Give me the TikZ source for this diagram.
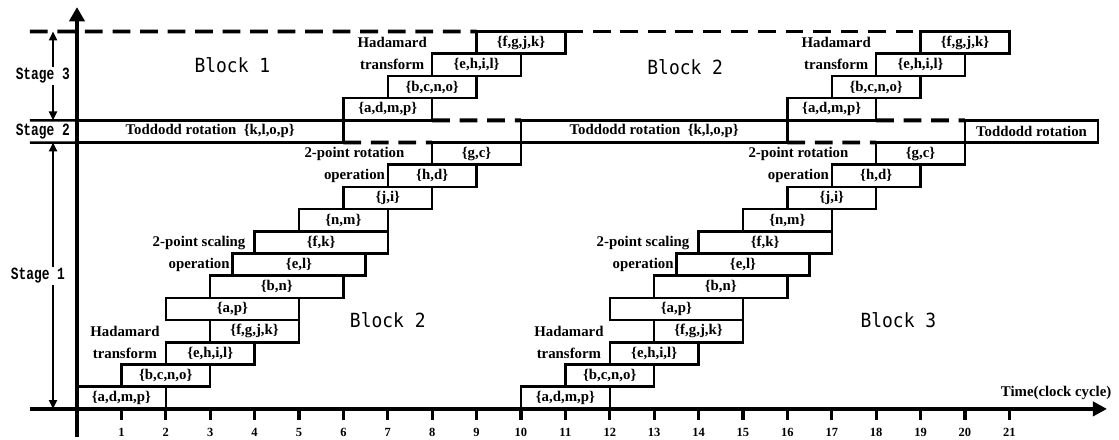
\documentclass[tikz,border=0pt]{standalone}
\usepackage{fontspec}
\setmainfont{Liberation Serif}
\newfontfamily\blockfont[FakeStretch=0.92]{DejaVu Sans Mono}
\newfontfamily\stagefont[FakeStretch=0.75]{Liberation Mono}
\usetikzlibrary{arrows.meta}

\begin{document}
\begin{tikzpicture}[x=1cm,y=0.5cm,
  task/.style={draw,line width=1.6pt,inner sep=0pt,outer sep=0pt,minimum height=0.5cm,
    font=\bfseries\fontsize{9.5}{14}\selectfont},
  note/.style={align=center,inner sep=1pt,font=\bfseries\fontsize{9.5}{14}\selectfont},
  blocklabel/.style={inner sep=1pt,font=\blockfont\fontsize{12.5}{14}\selectfont},
  stagelabel/.style={fill=white,inner sep=1pt,font=\stagefont\bfseries\fontsize{11}{13}\selectfont},
  ticklabel/.style={inner sep=1pt,font=\bfseries\fontsize{8}{10}\selectfont},
  axisline/.style={line width=2.8pt},
  stageline/.style={line width=1.6pt},
  dashline/.style={line width=2.5pt,dash pattern=on 0.4cm off 0.22cm},
  stagearrow/.style={line width=1.3pt,{Triangle[length=2mm,width=1.8mm]}-{Triangle[length=2mm,width=1.8mm]}}]
  \useasboundingbox (-1.734,-1.396) rectangle (23.47,18.42);

  \coordinate (xl) at (-1.06,0);
  \coordinate (xr) at (23.2,0);
  \coordinate (yb) at (0,-1.26);
  \coordinate (yt) at (0,18.1);
  \coordinate (l17) at (-1.06,17);
  \coordinate (l13) at (-1.06,13);
  \coordinate (l12) at (-1.06,12);
  \coordinate (s17) at (-0.54,17);
  \coordinate (s13) at (-0.54,13);
  \coordinate (s12) at (-0.54,12);
  \coordinate (s0) at (-0.54,0);

  \node[task,minimum width=3cm] (todd20) at (21.5,12.5) {Toddodd rotation};
  \foreach \s in {0,10} {
    \foreach \a/\b/\r/\t in {0/2/0/{a,d,m,p},1/3/1/{b,c,n,o},2/4/2/{e,h,i,l},
      3/5/3/{f,g,j,k},2/5/4/{a,p},3/6/5/{b,n},3.5/6.5/6/{e,l},4/7/7/{f,k},
      5/7/8/{n,m},6/8/9/{j,i},7/9/10/{h,d},8/10/11/{g,c},
      6/8/13/{a,d,m,p},7/9/14/{b,c,n,o},8/10/15/{e,h,i,l},9/11/16/{f,g,j,k}}
      \node[task,minimum width={(\b-\a)*1cm}] (t\s-\r) at ({\s+(\a+\b)/2},\r+0.5) {\{\t\}};
    \node[task,minimum width=6cm] (todd\s) at (\s+3,12.5) {Toddodd rotation \ \{k,l,o,p\}};
    \node[note] (had\s) at (\s+1.08,3) {Hadamard\\transform};
    \node[note] (scal\s) at (\s+2.75,7) {2-point scaling\\operation};
    \node[note] (rot\s) at (\s+6.25,11) {2-point rotation\\operation};
    \node[note] (hadt\s) at (\s+7.1,16) {Hadamard\\transform};
  }
  \foreach \s/\nx in {0/10,10/20} {
    \draw[dashline] (t\s-13.south east) -- (todd\nx.north west);
    \draw[dashline] (todd\s.south east) -- (t\s-11.north west);
  }
  \draw[stageline] (l13) -- (todd0.north west) (l12) -- (todd0.south west);
  \draw[dashline] (l17) -- (t0-16.north west);
  \draw[dashline] (t0-16.north east) -- (t10-16.north west);

  \draw[axisline,-{Triangle[length=3.2mm,width=3.2mm]}] (xl) -- (xr);
  \draw[axisline,-{Triangle[length=3.2mm,width=3.4mm]}] (yb) -- (yt);
  \foreach \i in {1,...,21} {
    \draw[line width=2pt] (\i,0) -- (\i,-0.5);
    \node[ticklabel] (n\i) at (\i,-1.04) {\i};
  }
  \node[note,anchor=east] (time) at (23.34,0.72) {Time(clock cycle)};

  \draw[stagearrow] (s17) -- (s13);
  \draw[stagearrow] (s12) -- (s0);
  \node[stagelabel] (st3) at (-0.77,15) {Stage 3};
  \node[stagelabel,fill=none] (st2) at (-0.77,12.5) {Stage 2};
  \node[stagelabel] (st1) at (-0.88,6) {Stage 1};

  \node[blocklabel] (blk1) at (3.5,15.5) {Block 1};
  \node[blocklabel] (blk2) at (13.7,15.4) {Block 2};
  \node[blocklabel] (blk2b) at (7,4) {Block 2};
  \node[blocklabel] (blk3) at (18.5,4) {Block 3};
\end{tikzpicture}
\end{document}
